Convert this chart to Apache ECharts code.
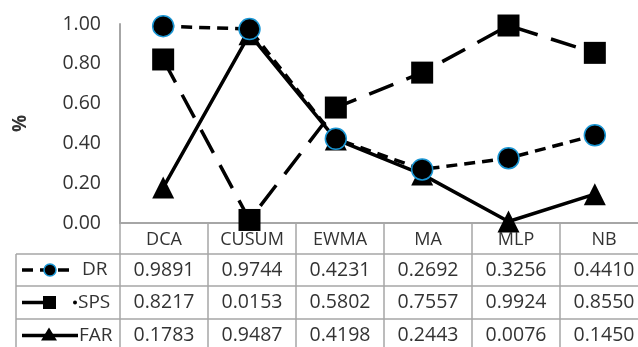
<!DOCTYPE html>
<html><head><meta charset="utf-8">
<script src="https://cdn.jsdelivr.net/npm/echarts@6/dist/echarts.min.js"></script>
<style>html,body{margin:0;padding:0;background:#fff}#c{width:638px;height:347px}</style>
</head><body><div id="c"></div>
<script>
const categories = ['DCA','CUSUM','EWMA','MA','MLP','NB'];
const seriesNames = ['DR','SPS','FAR'];
const drValues  = [0.9891,0.9744,0.4231,0.2692,0.3256,0.4410];
const spsValues = [0.8217,0.0153,0.5802,0.7557,0.9924,0.8550];
const farValues = [0.1783,0.9487,0.4198,0.2443,0.0076,0.1450];
const yTicks = [0,0.2,0.4,0.6,0.8,1.0];

const chart = echarts.init(document.getElementById('c'));
const FONT = '"Open Sans", "Liberation Sans", sans-serif';
const TXT = '#333';
const BLUE = '#1a96d4';
const GRID = {left:120, top:24, width:528, height:199};
const colW = GRID.width / categories.length;
const rowY = [223, 254, 286, 319, 352];
const tableLeft = 16;
const gridCol = '#a6a6a6';

function txt(x, y, s, size, align) {
  return {type:'text', x:x, y:y, z:10,
    style:{text:s, fill:TXT, fontSize:size, fontFamily:FONT, align:align||'center', verticalAlign:'middle'}};
}

const graphics = [];
for (let i = 1; i < rowY.length - 1; i++) {
  graphics.push({type:'line', shape:{x1:tableLeft, y1:rowY[i], x2:640, y2:rowY[i]}, style:{stroke:gridCol, lineWidth:1.5}});
}
for (let i = 0; i <= categories.length; i++) {
  const x = GRID.left + i * colW;
  graphics.push({type:'line', shape:{x1:x, y1:rowY[0], x2:x, y2:rowY[4]}, style:{stroke:gridCol, lineWidth:1.5}});
}
graphics.push({type:'line', shape:{x1:tableLeft, y1:rowY[1], x2:tableLeft, y2:rowY[4]}, style:{stroke:gridCol, lineWidth:1.5}});
categories.forEach((c, i) => {
  graphics.push(txt(GRID.left + (i + 0.5) * colW, (rowY[0]+rowY[1])/2 + 1, c, 18));
});
[drValues, spsValues, farValues].forEach((vals, r) => {
  vals.forEach((v, i) => {
    graphics.push(txt(GRID.left + (i + 0.5) * colW, (rowY[r+1]+rowY[r+2])/2, v.toFixed(4), 19.5));
  });
});
const ky = seriesNames.map((_, r) => (rowY[r+1] + rowY[r+2]) / 2);
// DR key
graphics.push({type:'line', shape:{x1:22, y1:ky[0], x2:72, y2:ky[0]}, style:{stroke:'#000', lineWidth:3.5, lineDash:[11,7]}});
graphics.push({type:'circle', shape:{cx:50, cy:ky[0], r:6}, style:{fill:'#000', stroke:BLUE, lineWidth:1.5}});
graphics.push(txt(82, ky[0], seriesNames[0], 19, 'left'));
// SPS key
graphics.push({type:'line', shape:{x1:22, y1:ky[1], x2:49, y2:ky[1]}, style:{stroke:'#000', lineWidth:3.5}});
graphics.push({type:'rect', shape:{x:43, y:ky[1]-6.5, width:13, height:13}, style:{fill:'#000'}});
graphics.push({type:'circle', shape:{cx:75, cy:ky[1], r:2}, style:{fill:'#000'}});
graphics.push(txt(78, ky[1], seriesNames[1], 19, 'left'));
// FAR key
graphics.push({type:'line', shape:{x1:22, y1:ky[2], x2:78, y2:ky[2]}, style:{stroke:'#000', lineWidth:3.5}});
graphics.push({type:'polygon', shape:{points:[[49, ky[2]-8],[57, ky[2]+5],[41, ky[2]+5]]}, style:{fill:'#000'}});
graphics.push(txt(79, ky[2], seriesNames[2], 19, 'left'));

const common = {type:'line', symbolSize:21, z:3};
chart.setOption({
  animation:false,
  grid:GRID,
  xAxis:{type:'category', data:categories, boundaryGap:true,
    axisLine:{lineStyle:{color:gridCol, width:2}}, axisTick:{show:false}, axisLabel:{show:false}},
  yAxis:{type:'value', min:0, max:1, interval:0.2, name:'%', nameLocation:'middle', nameGap:90, nameRotate:90,
    nameTextStyle:{fontSize:19, fontWeight:'bold', color:TXT, fontFamily:FONT},
    axisLine:{show:true, lineStyle:{color:gridCol, width:2}}, axisTick:{show:false}, splitLine:{show:false},
    axisLabel:{formatter:v=>v.toFixed(2), fontSize:19.5, color:TXT, fontFamily:FONT, margin:19}},
  graphic:graphics,
  series:[
    Object.assign({}, common, {name:'SPS', data:spsValues, symbol:'rect', symbolSize:22, z:2,
      itemStyle:{color:'#000'}, lineStyle:{color:'#000', width:3.5, type:[26,14]}}),
    Object.assign({}, common, {name:'FAR', data:farValues, symbol:'triangle', symbolSize:22, z:3,
      itemStyle:{color:'#000'}, lineStyle:{color:'#000', width:3.5, type:'solid'}}),
    Object.assign({}, common, {name:'DR', data:drValues, symbol:'circle', symbolSize:21, z:4,
      itemStyle:{color:'#000', borderColor:BLUE, borderWidth:1.5}, lineStyle:{color:'#000', width:3.5, type:[11,7]}})
  ]
});
</script></body></html>
